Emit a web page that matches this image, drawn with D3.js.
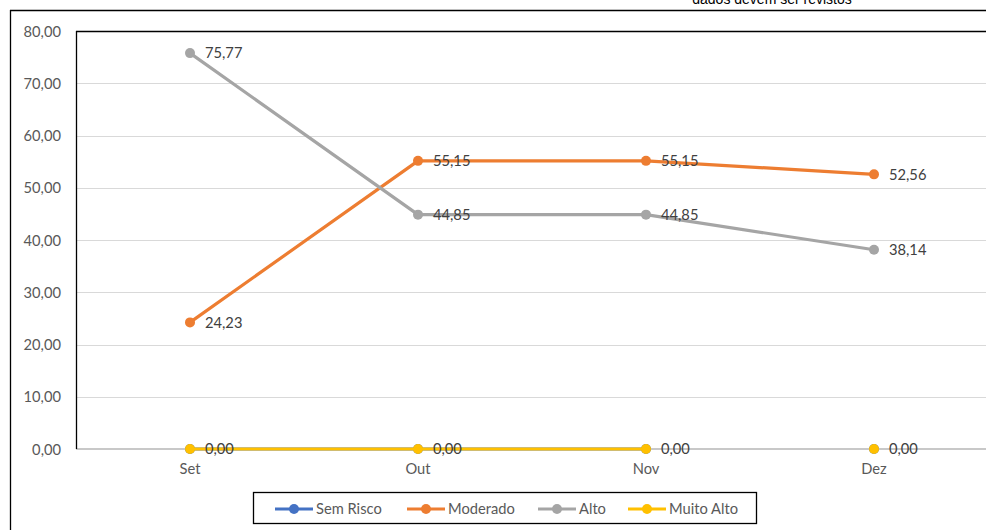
<!DOCTYPE html>
<html><head><meta charset="utf-8">
<script src="https://cdn.jsdelivr.net/npm/d3@7"></script>
<style>html,body{margin:0;padding:0;background:#fff;overflow:hidden}</style>
</head><body>
<svg id="c" width="986" height="530"></svg>
<script>
const categories = ["Set", "Out", "Nov", "Dez"];
const semRisco   = [0, 0, 0, 0];
const moderado   = [24.23, 55.15, 55.15, 52.56];
const alto       = [75.77, 44.85, 44.85, 38.14];
const muitoAlto  = [0, 0, 0, 0];
const zeroLinePoints = 3; // zero series' lines only connect the first three months
const seriesNames = ["Sem Risco", "Moderado", "Alto", "Muito Alto"];
const yTicks = [0, 10, 20, 30, 40, 50, 60, 70, 80];
const noteText = "dados devem ser revistos";

const colors = {"Sem Risco":"#4472C4","Moderado":"#ED7D31","Alto":"#A5A5A5","Muito Alto":"#FFC000"};
const series = [
  {name:"Sem Risco", values:semRisco, lineN:zeroLinePoints, labels:false},
  {name:"Moderado", values:moderado, lineN:4, labels:true},
  {name:"Alto", values:alto, lineN:4, labels:true},
  {name:"Muito Alto", values:muitoAlto, lineN:zeroLinePoints, labels:true}
];

const svg = d3.select("#c");
const fmt = v => v.toFixed(2).replace(".", ",");
const font = "Lato, 'Open Sans', sans-serif";
const fs = 14.7;

const plot = {left:76, top:31, right:988, bottom:449};
const x = d3.scaleBand().domain(categories).range([plot.left, plot.right]);
const xc = c => x(c) + x.bandwidth()/2;
const y = d3.scaleLinear().domain([0, 80]).range([plot.bottom, plot.top]);

// note text (cut off at the top, as in the original)
svg.append("text").attr("x", 772).attr("y", 4).attr("text-anchor","middle")
  .attr("font-family","'Liberation Sans', Arial, sans-serif").attr("font-size",14)
  .attr("fill","#000").text(noteText);

// outer frame
svg.append("line").attr("x1",10).attr("x2",986).attr("y1",10.5).attr("y2",10.5).attr("stroke","#000").attr("stroke-width",1.3);
svg.append("line").attr("x1",10.5).attr("x2",10.5).attr("y1",10).attr("y2",530).attr("stroke","#000").attr("stroke-width",1.3);

// gridlines
svg.append("g").selectAll("line").data(yTicks.filter(t => t > 0 && t < 80)).join("line")
  .attr("x1", plot.left).attr("x2", 986)
  .attr("y1", d => Math.round(y(d)) + 0.5).attr("y2", d => Math.round(y(d)) + 0.5)
  .attr("stroke","#d9d9d9").attr("stroke-width",1);

// y axis labels
const yAxis = svg.append("g").attr("transform", `translate(${plot.left - 15},0)`)
  .call(d3.axisLeft(y).tickValues(yTicks).tickFormat(fmt).tickSize(0));
yAxis.select(".domain").remove();
yAxis.selectAll("text").attr("font-family", font).attr("font-size", fs).attr("fill","#595959").attr("x", 0).attr("dy","0.35em");

// x axis line
svg.append("line").attr("x1", plot.left).attr("x2", 986)
  .attr("y1", y(0)).attr("y2", y(0)).attr("stroke","#c8c8c8").attr("stroke-width",2);
// x axis labels
const xAxis = svg.append("g").attr("transform", `translate(0,${y(0) + 15})`)
  .call(d3.axisBottom(x).tickSize(0));
xAxis.select(".domain").remove();
xAxis.selectAll("text").attr("font-family", font).attr("font-size", fs).attr("fill","#595959").attr("y", 0).attr("dy","0.71em");

// plot area frame (left + top)
svg.append("line").attr("x1", plot.left + 0.5).attr("x2", plot.left + 0.5).attr("y1", plot.top).attr("y2", y(0)).attr("stroke","#000").attr("stroke-width",1.3);
svg.append("line").attr("x1", plot.left).attr("x2", 986).attr("y1", plot.top + 0.5).attr("y2", plot.top + 0.5).attr("stroke","#000").attr("stroke-width",1.3);

// lines and markers
const line = d3.line().x((d,i) => xc(categories[i])).y(d => y(d));
series.forEach(s => {
  const g = svg.append("g");
  g.append("path").datum(s.values.slice(0, s.lineN))
    .attr("d", line).attr("fill","none").attr("stroke", colors[s.name])
    .attr("stroke-width", 3.2).attr("stroke-linejoin","round");
  g.selectAll("circle").data(s.values).join("circle")
    .attr("cx", (d,i) => xc(categories[i])).attr("cy", d => y(d)).attr("r", 5)
    .attr("fill", colors[s.name]);
});
// data labels
series.filter(s => s.labels).forEach(s => {
  svg.append("g").selectAll("text").data(s.values).join("text")
    .attr("x", (d,i) => xc(categories[i]) + 15).attr("y", d => y(d))
    .attr("dy","0.36em").attr("font-family", font).attr("font-size", fs)
    .attr("fill","#404040").text(fmt);
});

// legend
const lg = svg.append("g");
lg.append("rect").attr("x", 253.5).attr("y", 492.5).attr("width", 503).attr("height", 31)
  .attr("fill","#fff").attr("stroke","#000").attr("stroke-width",1.3);
const legX = [275, 407, 538, 628];
series.forEach((s, i) => {
  const gx = legX[i], gy = 509;
  lg.append("line").attr("x1", gx).attr("x2", gx + 38).attr("y1", gy).attr("y2", gy)
    .attr("stroke", colors[s.name]).attr("stroke-width", 3.2);
  lg.append("circle").attr("cx", gx + 19).attr("cy", gy).attr("r", 5).attr("fill", colors[s.name]);
  lg.append("text").attr("x", gx + 41).attr("y", gy).attr("dy","0.36em")
    .attr("font-family", font).attr("font-size", fs).attr("fill","#595959").text(s.name);
});
</script>
</body></html>
